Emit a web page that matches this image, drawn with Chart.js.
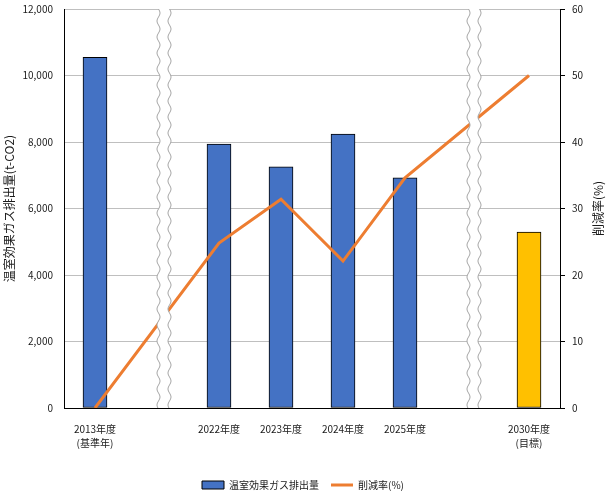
<!DOCTYPE html>
<html>
<head>
<meta charset="utf-8">
<script src="https://cdn.jsdelivr.net/npm/chart.js@4/dist/chart.umd.min.js"></script>
<style>
  html, body { margin: 0; padding: 0; background: #fff; }
  #wrap { width: 606px; height: 500px; }
</style>
</head>
<body>
<div id="wrap"><canvas id="g_ghg"></canvas></div>
<script>
// データ
const categories = [['2013年度', '(基準年)'], '', '2022年度', '2023年度', '2024年度', '2025年度', '', ['2030年度', '(目標)']];
const emissions = [10550, null, 7940, 7250, 8240, 6920, null, 5290];
const reductionRate = [0, null, 24.8, 31.4, 22.1, 34.6, null, 50];
const breakAt = [1, 6]; // 省略記号（波線）の位置

const FONT = '"Noto Sans CJK JP", "Noto Sans", sans-serif';
const barColors = emissions.map((v, i) => i === emissions.length - 1 ? '#FFC000' : '#4472C4');

// 波線（省略）
const breakPlugin = {
  id: 'breakLines',
  afterDatasetsDraw(chart) {
    const { ctx, chartArea } = chart;
    const xs = chart.scales.x;
    const top = chartArea.top, bottom = chartArea.bottom;
    const amp = 1.5, period = 16, half = 5.5;
    breakAt.forEach(idx => {
      const cx = xs.getPixelForValue(idx) + 7;
      const wave = (y, side) => cx + side * half + amp * Math.sin((y - top) / period * Math.PI * 2);
      ctx.save();
      ctx.beginPath();
      for (let y = top; y <= bottom; y++) ctx.lineTo(wave(y, -1), y);
      for (let y = bottom; y >= top; y--) ctx.lineTo(wave(y, 1), y);
      ctx.closePath();
      ctx.fillStyle = '#fff';
      ctx.fill();
      ctx.strokeStyle = '#a6a6a6';
      ctx.lineWidth = 1;
      [-1, 1].forEach(side => {
        ctx.beginPath();
        for (let y = top; y <= bottom; y++) ctx.lineTo(wave(y, side), y);
        ctx.stroke();
      });
      ctx.restore();
    });
  },
  afterDraw(chart) {
    // 右軸タイトル（下から上へ）
    const { ctx, chartArea } = chart;
    const y1 = chart.scales.y1;
    ctx.save();
    ctx.translate(y1.right - 8, (chartArea.top + chartArea.bottom) / 2);
    ctx.rotate(-Math.PI / 2);
    ctx.font = '12px ' + FONT;
    ctx.fillStyle = '#1a1a1a';
    ctx.textAlign = 'center';
    ctx.textBaseline = 'middle';
    ctx.fillText('削減率(%)', 0, 0);
    ctx.restore();
  }
};

const ctx = document.getElementById('g_ghg').getContext('2d');
const g_ghg = new Chart(ctx, {
  data: {
    labels: categories,
    datasets: [{
      type: 'line',
      label: '削減率(%)',
      data: reductionRate,
      yAxisID: 'y1',
      borderColor: '#ED7D31',
      backgroundColor: '#ED7D31',
      borderWidth: 3,
      pointRadius: 0,
      spanGaps: true,
      tension: 0,
      order: 1
    }, {
      type: 'bar',
      label: '温室効果ガス排出量',
      data: emissions,
      yAxisID: 'y',
      backgroundColor: barColors,
      borderColor: '#000',
      borderWidth: 1,
      borderSkipped: false,
      barThickness: 24,
      order: 2
    }]
  },
  options: {
    responsive: true,
    maintainAspectRatio: false,
    animation: false,
    layout: { padding: { top: 9, left: 0, right: 0, bottom: 0 } },
    plugins: {
      tooltip: { enabled: false },
      legend: {
        position: 'bottom',
        reverse: true,
        labels: {
          font: { family: FONT, size: 10 },
          color: '#1a1a1a',
          usePointStyle: true,
          pointStyleWidth: 22,
          boxWidth: 22,
          boxHeight: 8,
          padding: 12,
          generateLabels(chart) {
            const items = Chart.defaults.plugins.legend.labels.generateLabels(chart);
            items.forEach(it => {
              if (it.datasetIndex === 1) {
                it.pointStyle = 'rect';
                it.fillStyle = '#4472C4';
                it.strokeStyle = '#000';
                it.lineWidth = 1;
              } else {
                it.pointStyle = 'line';
                it.strokeStyle = '#ED7D31';
                it.lineWidth = 3;
              }
            });
            return items;
          }
        }
      }
    },
    scales: {
      x: {
        offset: true,
        grid: { display: false },
        border: { display: true, color: '#000', width: 1 },
        ticks: {
          color: '#1a1a1a',
          font: { family: FONT, size: 10, lineHeight: 1.4 },
          padding: 6,
          maxRotation: 0,
          autoSkip: false
        },
        afterFit(scale) { scale.height = 60; }
      },
      y: {
        position: 'left',
        min: 0,
        max: 12000,
        grid: { color: '#bfbfbf', drawTicks: false },
        border: { display: true, color: '#000', width: 1 },
        ticks: {
          stepSize: 2000,
          padding: 11,
          color: '#1a1a1a',
          font: { family: FONT, size: 10 },
          callback: v => v.toLocaleString('en-US')
        },
        title: {
          display: true,
          text: '温室効果ガス排出量(t-CO2)',
          color: '#1a1a1a',
          font: { family: FONT, size: 12 },
          padding: { top: 2, bottom: 0 }
        },
        afterFit(scale) { scale.width = 64; scale.paddingTop = 0; scale.paddingBottom = 0; }
      },
      y1: {
        position: 'right',
        min: 0,
        max: 60,
        grid: { drawOnChartArea: false, drawTicks: true, tickLength: 5, color: '#000' },
        border: { display: true, color: '#000', width: 1 },
        ticks: {
          stepSize: 10,
          padding: 7,
          color: '#1a1a1a',
          font: { family: FONT, size: 10 }
        },
        afterFit(scale) { scale.width = 46; scale.paddingTop = 0; scale.paddingBottom = 0; }
      }
    }
  },
  plugins: [breakPlugin]
});
</script>
</body>
</html>
